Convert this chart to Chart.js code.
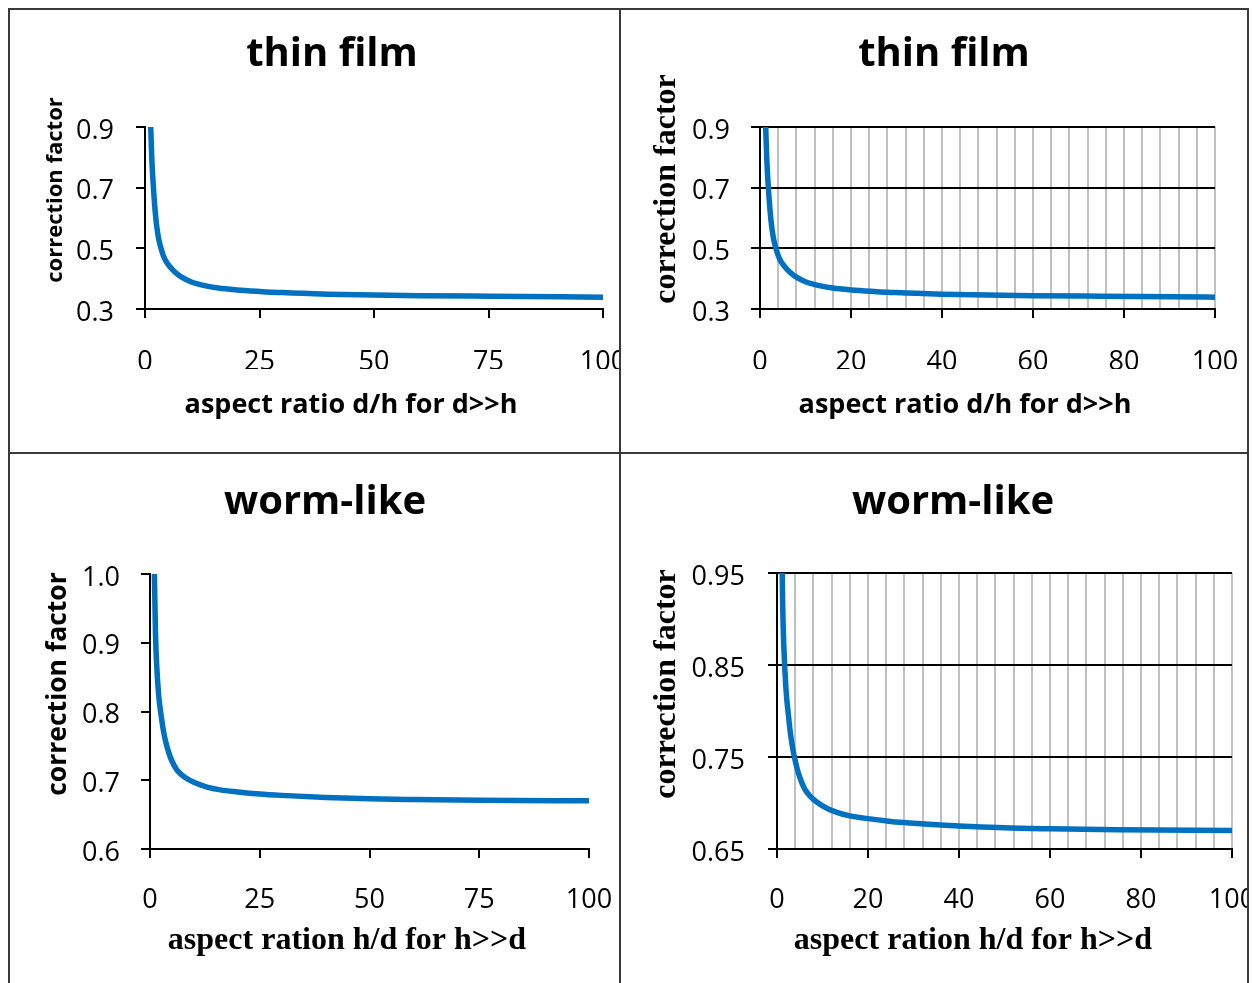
<!DOCTYPE html>
<html>
<head>
<meta charset="utf-8">
<title>correction factor</title>
<script src="https://cdn.jsdelivr.net/npm/chart.js@4.4.1/dist/chart.umd.min.js"></script>
<style>
  html, body { margin: 0; padding: 0; background: #fff; }
  #page { position: relative; width: 1253px; height: 983px; overflow: hidden; background: #fff; }
  .cell { position: absolute; overflow: hidden; }
  .cell canvas { position: absolute; }
  .line { position: absolute; background: #3a3a3a; }
</style>
</head>
<body>
<div id="page">
  <div class="cell" style="left:10px;top:10px;width:609px;height:442px"><canvas id="c1" width="1400" height="983" style="left:-10px;top:-10px"></canvas></div>
  <div class="cell" style="left:621px;top:10px;width:626px;height:442px"><canvas id="c2" width="1400" height="983" style="left:-621px;top:-10px"></canvas></div>
  <div class="cell" style="left:10px;top:454px;width:609px;height:529px"><canvas id="c3" width="1400" height="983" style="left:-10px;top:-454px"></canvas></div>
  <div class="cell" style="left:621px;top:454px;width:626px;height:529px"><canvas id="c4" width="1400" height="983" style="left:-621px;top:-454px"></canvas></div>

  <div class="line" style="left:8px;top:8px;width:1241px;height:2px"></div>
  <div class="line" style="left:8px;top:452px;width:1241px;height:2px"></div>
  <div class="line" style="left:8px;top:8px;width:2px;height:975px"></div>
  <div class="line" style="left:619px;top:8px;width:2px;height:975px"></div>
  <div class="line" style="left:1247px;top:8px;width:2px;height:975px"></div>
</div>

<script>
// values
const xThin = [1, 1.25, 1.5, 2, 2.5, 3, 3.5, 4, 4.5, 5, 6, 7, 8, 10, 13, 16, 20, 25, 30, 40, 50, 60, 75, 100];
const yThin = [1.0, 0.9, 0.79, 0.665, 0.58, 0.53, 0.5, 0.476, 0.46, 0.448, 0.43, 0.416, 0.405, 0.39, 0.377, 0.369, 0.363, 0.358, 0.354, 0.349, 0.346, 0.344, 0.342, 0.339];

const xWorm = [1, 1.25, 1.5, 2, 2.5, 3, 3.5, 4, 4.5, 5, 6, 7, 8, 10, 13, 16, 20, 25, 30, 40, 50, 60, 75, 100];
const yWorm = [1.0, 0.915, 0.87, 0.822, 0.796, 0.774, 0.758, 0.746, 0.736, 0.728, 0.716, 0.709, 0.704, 0.697, 0.690, 0.686, 0.683, 0.680, 0.678, 0.675, 0.673, 0.672, 0.671, 0.670];

// tick labels
const xTicksA = [0, 25, 50, 75, 100];
const xTicksB = [0, 20, 40, 60, 80, 100];
const xGridB = [0, 4, 8, 12, 16, 20, 24, 28, 32, 36, 40, 44, 48, 52, 56, 60, 64, 68, 72, 76, 80, 84, 88, 92, 96, 100];
const yTicksThin = [0.3, 0.5, 0.7, 0.9];
const yTicksWormA = [0.6, 0.7, 0.8, 0.9, 1.0];
const yTicksWormB = [0.65, 0.75, 0.85, 0.95];

const SANS = "'Open Sans', sans-serif";
const SERIF = "'Liberation Serif', 'Times New Roman', serif";
const BLUE = '#0070c0';
const GREY = '#c0c0c0';
const CANVAS_W = 1400;
const CANVAS_H = 983;

Chart.defaults.color = '#000';

// titles and axis titles drawn at their place in the panel
const panelText = {
    id: 'panelText',
    afterDraw(chart, args, opts) {
        const ctx = chart.ctx;
        (opts.items || []).forEach(function(t) {
            ctx.save();
            ctx.font = t.font;
            ctx.fillStyle = '#000';
            ctx.textAlign = 'center';
            ctx.textBaseline = 'middle';
            ctx.translate(t.x, t.y);
            if (t.rotate) ctx.rotate(-Math.PI / 2);
            ctx.fillText(t.text, 0, 0);
            ctx.restore();
        });
    }
};

function toPoints(xs, ys) {
    return xs.map((x, i) => ({ x: x, y: ys[i] }));
}

function makePanel(id, p) {
    const gridded = p.gridded;
    return new Chart(document.getElementById(id), {
        type: 'scatter',
        data: {
            datasets: [{
                data: toPoints(p.xs, p.ys),
                showLine: true,
                borderColor: BLUE,
                borderWidth: 5.5,
                pointRadius: 0,
                cubicInterpolationMode: 'monotone',
                clip: 0
            }]
        },
        options: {
            responsive: false,
            animation: false,
            layout: {
                padding: {
                    left: p.area.left - 100,
                    top: p.area.top,
                    right: CANVAS_W - p.area.right,
                    bottom: CANVAS_H - p.area.bottom - 60
                }
            },
            plugins: {
                legend: { display: false },
                tooltip: { enabled: false },
                panelText: { items: p.texts }
            },
            scales: {
                x: {
                    type: 'linear',
                    min: 0,
                    max: 100,
                    afterBuildTicks: s => { s.ticks = (gridded ? xGridB : xTicksA).map(v => ({ value: v })); },
                    afterFit: s => { s.height = 60; },
                    border: { color: '#000', width: 2 },
                    grid: {
                        drawOnChartArea: gridded,
                        color: GREY,
                        lineWidth: 2,
                        tickLength: 9,
                        tickWidth: 2,
                        tickColor: ctx => (gridded ? xTicksB : xTicksA).includes(ctx.tick.value) ? '#000' : 'rgba(0,0,0,0)'
                    },
                    ticks: {
                        autoSkip: false,
                        maxRotation: 0,
                        minRotation: 0,
                        padding: p.xPad,
                        font: { family: SANS, size: 27 },
                        callback: v => (gridded ? xTicksB : xTicksA).includes(v) ? String(v) : ''
                    }
                },
                y: {
                    type: 'linear',
                    min: p.yTicks[0],
                    max: p.yTicks[p.yTicks.length - 1],
                    afterBuildTicks: s => { s.ticks = p.yTicks.map(v => ({ value: v })); },
                    afterFit: s => { s.width = 100; },
                    border: { color: '#000', width: 2 },
                    grid: {
                        drawOnChartArea: gridded,
                        color: '#000',
                        lineWidth: 2,
                        tickLength: 9,
                        tickWidth: 2
                    },
                    ticks: {
                        padding: p.yPad,
                        labelOffset: 4,
                        font: { family: SANS, size: 27 },
                        callback: v => v.toFixed(p.decimals)
                    }
                }
            }
        },
        plugins: [panelText]
    });
}

makePanel('c1', {
    xs: xThin, ys: yThin, yTicks: yTicksThin, decimals: 1, gridded: false,
    area: { left: 145, right: 603, top: 127, bottom: 309 },
    xPad: 28, yPad: 22,
    texts: [
        { text: 'thin film', x: 332, y: 55, font: 'bold 40px ' + SANS },
        { text: 'aspect ratio d/h for d>>h', x: 351, y: 405, font: 'bold 27px ' + SANS },
        { text: 'correction factor', x: 56, y: 190, rotate: true, font: 'bold 22px ' + SANS }
    ]
});

makePanel('c2', {
    xs: xThin, ys: yThin, yTicks: yTicksThin, decimals: 1, gridded: true,
    area: { left: 760, right: 1215, top: 127, bottom: 309 },
    xPad: 28, yPad: 21,
    texts: [
        { text: 'thin film', x: 944, y: 55, font: 'bold 40px ' + SANS },
        { text: 'aspect ratio d/h for d>>h', x: 965, y: 405, font: 'bold 27px ' + SANS },
        { text: 'correction factor', x: 667, y: 189, rotate: true, font: 'bold 32px ' + SERIF }
    ]
});

makePanel('c3', {
    xs: xWorm, ys: yWorm, yTicks: yTicksWormA, decimals: 1, gridded: false,
    area: { left: 150, right: 589, top: 574, bottom: 849 },
    xPad: 26, yPad: 21,
    texts: [
        { text: 'worm-like', x: 325, y: 503, font: 'bold 40px ' + SANS },
        { text: 'aspect ration h/d for h>>d', x: 347, y: 941, font: 'bold 32px ' + SERIF },
        { text: 'correction factor', x: 58, y: 684, rotate: true, font: 'bold 26.5px ' + SANS }
    ]
});

makePanel('c4', {
    xs: xWorm, ys: yWorm, yTicks: yTicksWormB, decimals: 2, gridded: true,
    area: { left: 777, right: 1232, top: 573, bottom: 849 },
    xPad: 26, yPad: 23,
    texts: [
        { text: 'worm-like', x: 953, y: 503, font: 'bold 40px ' + SANS },
        { text: 'aspect ration h/d for h>>d', x: 973, y: 941, font: 'bold 32px ' + SERIF },
        { text: 'correction factor', x: 667, y: 684, rotate: true, font: 'bold 32px ' + SERIF }
    ]
});
</script>
</body>
</html>
